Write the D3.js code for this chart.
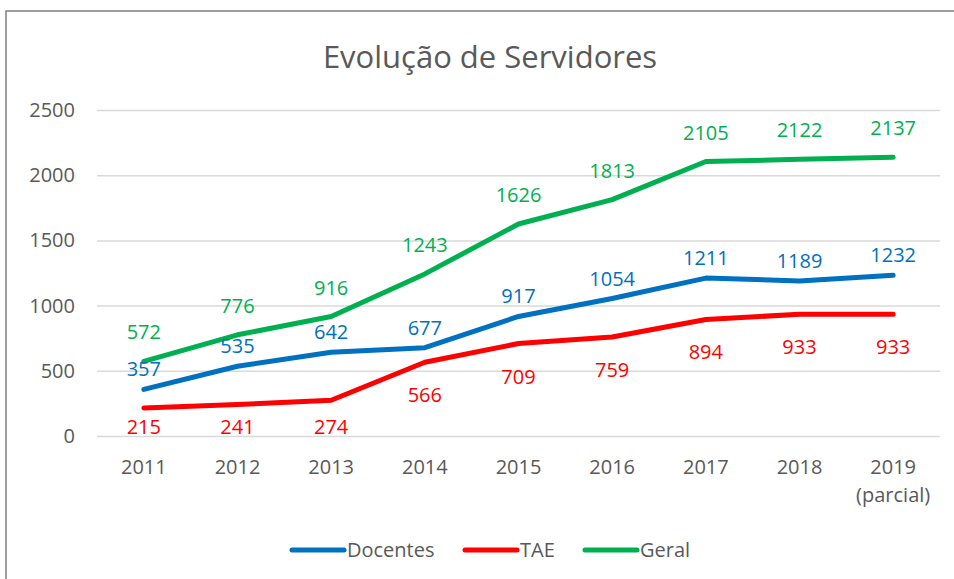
<!DOCTYPE html>
<html>
<head>
<meta charset="utf-8">
<script src="https://cdn.jsdelivr.net/npm/d3@7"></script>
<style>
  body { margin: 0; background: #fff; }
  text { font-family: "Open Sans", sans-serif; }
</style>
</head>
<body>
<div id="chart"></div>
<script>
// Chart data
const years = ["2011", "2012", "2013", "2014", "2015", "2016", "2017", "2018", "2019"];
const docentes = [357, 535, 642, 677, 917, 1054, 1211, 1189, 1232];
const tae = [215, 241, 274, 566, 709, 759, 894, 933, 933];
const geral = [572, 776, 916, 1243, 1626, 1813, 2105, 2122, 2137];
const yTicks = [0, 500, 1000, 1500, 2000, 2500];

const series = [
  { name: "Docentes", values: docentes, color: "#0070C0", labelDy: -13 },
  { name: "TAE", values: tae, color: "#FF0000", labelDy: 40 },
  { name: "Geral", values: geral, color: "#00B050", labelDy: -22 }
];

const W = 954, H = 579;
const fontSize = 20;

const svg = d3.select("#chart")
  .append("svg")
  .attr("width", W)
  .attr("height", H);

// Outer frame
svg.append("rect")
  .attr("x", 6)
  .attr("y", 11)
  .attr("width", W + 20)
  .attr("height", H)
  .attr("fill", "#fff")
  .attr("stroke", "#7f7f7f")
  .attr("stroke-width", 1.5);

// Scales
const x = d3.scaleBand()
  .domain(years)
  .range([97, 940]);

const y = d3.scaleLinear()
  .domain([0, 2500])
  .range([436, 110]);

// Title
svg.append("text")
  .attr("x", 490)
  .attr("y", 68)
  .attr("text-anchor", "middle")
  .attr("font-size", 31)
  .attr("fill", "#595959")
  .text("Evolução de Servidores");

// Gridlines and y labels
const yAxis = svg.append("g")
  .attr("transform", "translate(97,0)")
  .call(d3.axisLeft(y).tickValues(yTicks).tickFormat(d3.format("d")).tickSize(-843).tickPadding(22));

yAxis.select(".domain").remove();
yAxis.selectAll(".tick line")
  .attr("stroke", "#d9d9d9")
  .attr("stroke-width", 1.5);
yAxis.selectAll(".tick text")
  .attr("font-size", fontSize)
  .attr("font-family", "Open Sans, sans-serif")
  .attr("fill", "#595959");

// X labels
const xAxis = svg.append("g")
  .attr("transform", "translate(0,436)")
  .call(d3.axisBottom(x).tickSize(0).tickPadding(24));

xAxis.select(".domain").remove();
xAxis.selectAll(".tick text")
  .attr("font-size", fontSize)
  .attr("font-family", "Open Sans, sans-serif")
  .attr("fill", "#595959");

xAxis.selectAll(".tick")
  .filter(d => d === "2019")
  .append("text")
  .attr("y", 66)
  .attr("text-anchor", "middle")
  .attr("font-size", fontSize)
  .attr("fill", "#595959")
  .text("(parcial)");

// Lines
const line = d3.line()
  .x((d, i) => x(years[i]) + x.bandwidth() / 2)
  .y(d => y(d));

svg.selectAll("path.series")
  .data(series)
  .join("path")
  .attr("class", "series")
  .attr("d", d => line(d.values))
  .attr("fill", "none")
  .attr("stroke", d => d.color)
  .attr("stroke-width", 5)
  .attr("stroke-linecap", "round")
  .attr("stroke-linejoin", "round");

// Data labels (labels below the line stay above the x labels)
series.forEach(s => {
  svg.append("g")
    .selectAll("text")
    .data(s.values)
    .join("text")
    .attr("x", (d, i) => x(years[i]) + x.bandwidth() / 2)
    .attr("y", d => Math.min(y(d) + s.labelDy, 434))
    .attr("text-anchor", "middle")
    .attr("font-size", fontSize)
    .attr("fill", s.color)
    .text(d => d);
});

// Legend
const legendItems = [
  { name: "Docentes", color: "#0070C0", x: 292 },
  { name: "TAE", color: "#FF0000", x: 465 },
  { name: "Geral", color: "#00B050", x: 585 }
];

const legend = svg.append("g");

legend.selectAll("line")
  .data(legendItems)
  .join("line")
  .attr("x1", d => d.x)
  .attr("x2", d => d.x + 52)
  .attr("y1", 550)
  .attr("y2", 550)
  .attr("stroke", d => d.color)
  .attr("stroke-width", 5)
  .attr("stroke-linecap", "round");

legend.selectAll("text")
  .data(legendItems)
  .join("text")
  .attr("x", d => d.x + 55)
  .attr("y", 557)
  .attr("font-size", fontSize)
  .attr("fill", "#595959")
  .text(d => d.name);
</script>
</body>
</html>
